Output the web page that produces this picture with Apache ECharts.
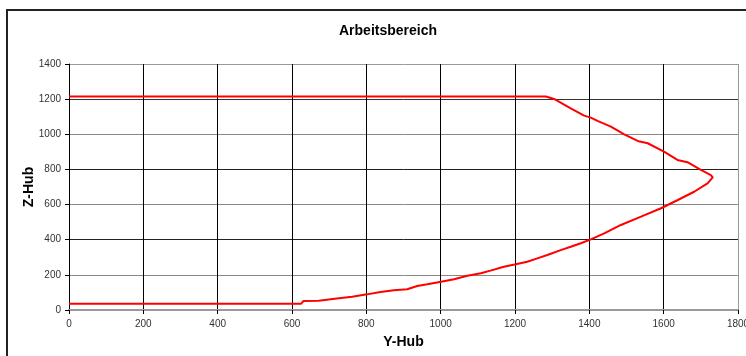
<!DOCTYPE html>
<html>
<head>
<meta charset="utf-8">
<script src="https://cdn.jsdelivr.net/npm/echarts@6/dist/echarts.min.js"></script>
<style>
  html, body { margin: 0; padding: 0; background: #fff; }
  #chart { width: 746px; height: 356px; }
</style>
</head>
<body>
<div id="chart"></div>
<script>
// Arbeitsbereich: Y-Hub (x) gegen Z-Hub (y)
var yHub = [0, 624, 631, 672, 676, 726, 730, 762, 802, 838, 874, 910, 937, 964, 1001, 1036,
            1072, 1108, 1134, 1170, 1202, 1233, 1260, 1287, 1323, 1350, 1377, 1404, 1440, 1485,
            1539, 1593, 1638, 1682, 1718, 1732, 1727, 1700, 1664, 1637, 1601, 1557, 1530, 1494,
            1458, 1422, 1404, 1386, 1350, 1305, 1283, 0];
var zHub = [35, 35, 51, 53, 61, 67, 74, 76, 89, 102, 112, 118, 137, 146, 161, 175,
            195, 209, 224, 246, 260, 275, 294, 313, 341, 360, 380, 402, 436, 484,
            531, 579, 626, 673, 721, 755, 768, 797, 841, 854, 901, 949, 962, 1000,
            1044, 1076, 1095, 1106, 1148, 1201, 1215, 1215];
var xTicks = [0, 1800, 200];   // min, max, interval
var yTicks = [0, 1400, 200];

var points = yHub.map(function (v, i) { return [v, zHub[i]]; });
var plain = function (v) { return String(v); };   // keine Tausendertrennzeichen

var chart = echarts.init(document.getElementById('chart'));
chart.setOption({
    animation: false,
    backgroundColor: '#fff',
    title: {
        text: 'Arbeitsbereich',
        left: 383,
        top: 19,
        textAlign: 'center',
        textStyle: { fontFamily: 'Liberation Sans, Arial', fontSize: 14, fontWeight: 'bold', color: '#000' }
    },
    graphic: [{
        type: 'rect',
        shape: { x: 7, y: 10, width: 800, height: 400 },
        style: { fill: 'none', stroke: '#222', lineWidth: 2 },
        silent: true
    }],
    grid: { left: 69, top: 64, right: 8, bottom: 46, outerBoundsMode: 'none', containLabel: false,
            show: true, backgroundColor: '#fff', borderWidth: 0 },
    xAxis: {
        type: 'value',
        min: xTicks[0], max: xTicks[1], interval: xTicks[2],
        name: 'Y-Hub',
        nameLocation: 'middle',
        nameGap: 25,
        nameMoveOverlap: false,
        nameTextStyle: { fontFamily: 'Liberation Sans, Arial', fontSize: 14, fontWeight: 'bold', color: '#000' },
        axisLine: { onZero: false, lineStyle: { color: '#999', width: 2 } },
        axisTick: { show: true, length: 4, lineStyle: { color: '#000' } },
        axisLabel: { margin: 9, formatter: plain, fontFamily: 'Liberation Sans, Arial', fontSize: 10, color: '#333' },
        splitLine: { show: true, lineStyle: { color: ['#000', '#000', '#000', '#000', '#000', '#000', '#000', '#000', '#000', '#999'], width: 1 } }
    },
    yAxis: {
        type: 'value',
        min: yTicks[0], max: yTicks[1], interval: yTicks[2],
        name: 'Z-Hub',
        nameLocation: 'middle',
        nameGap: 33,
        nameMoveOverlap: false,
        nameTextStyle: { fontFamily: 'Liberation Sans, Arial', fontSize: 14, fontWeight: 'bold', color: '#000' },
        axisLine: { show: true, onZero: false, lineStyle: { color: '#000', width: 1 } },
        axisTick: { show: true, length: 4, lineStyle: { color: '#000' } },
        axisLabel: { margin: 8, formatter: plain, fontFamily: 'Liberation Sans, Arial', fontSize: 10, color: '#333' },
        splitLine: { show: true, lineStyle: { color: ['#999', '#888', '#222', '#888', '#222', '#888', '#333', '#999'], width: 1 } }
    },
    series: [{
        type: 'line',
        data: points,
        showSymbol: false,
        symbol: 'none',
        lineStyle: { color: '#ff0000', width: 2 },
        z: 5
    }]
});
</script>
</body>
</html>
